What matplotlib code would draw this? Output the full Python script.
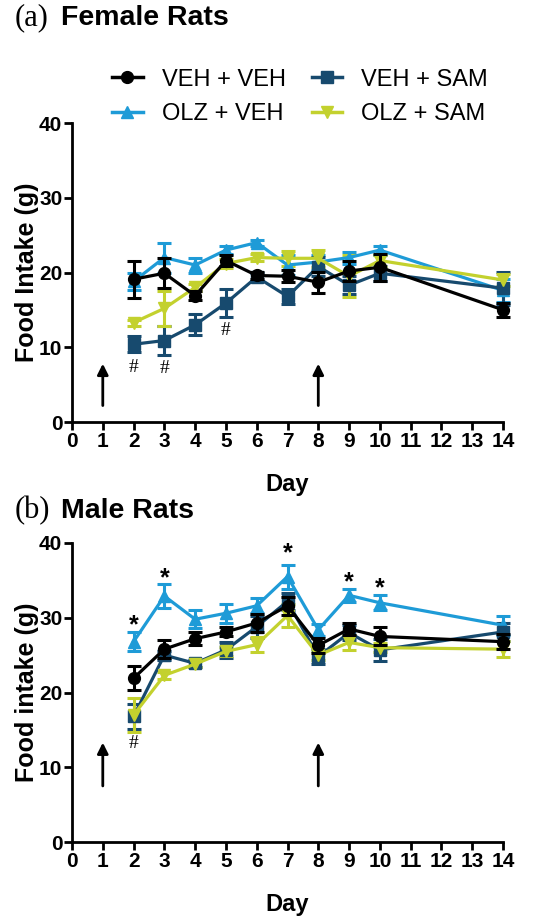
import matplotlib
matplotlib.use("Agg")
import matplotlib.pyplot as plt
from matplotlib.lines import Line2D

plt.rcParams['font.family'] = ['Liberation Sans', 'DejaVu Sans']

days = [2, 3, 4, 5, 6, 7, 8, 9, 10, 14]

# female rats (g)
f_vv = [19.1, 19.9, 16.9, 21.6, 19.6, 19.5, 18.7, 20.2, 20.7, 15.0]
f_vv_err = [2.5, 2.0, 0.6, 0.7, 0.5, 0.8, 1.4, 1.3, 1.8, 0.9]
f_vs = [10.4, 10.9, 13.0, 15.9, 19.4, 16.8, 20.8, 18.3, 19.9, 17.9]
f_vs_err = [1.1, 2.0, 1.4, 1.9, 0.5, 1.0, 1.3, 1.2, 1.0, 2.2]
f_ov = [18.8, 22.0, 21.0, 23.0, 24.0, 21.0, 21.4, 22.0, 23.0, 17.6]
f_ov_err = [1.2, 2.0, 1.0, 0.5, 0.4, 1.3, 1.0, 0.8, 0.6, 1.5]
f_os = [13.3, 15.2, 18.0, 21.2, 22.0, 21.9, 21.9, 19.5, 21.6, 19.0]
f_os_err = [0.4, 2.3, 0.5, 0.6, 0.5, 1.0, 1.1, 2.8, 0.8, 0.8]

# male rats (g)
m_vv = [21.9, 25.8, 27.2, 28.1, 29.3, 31.6, 26.3, 28.5, 27.5, 26.8]
m_vv_err = [1.6, 1.2, 0.9, 0.6, 1.2, 1.2, 1.0, 0.8, 1.2, 1.0]
m_vs = [16.8, 25.0, 23.9, 25.7, 28.8, 32.2, 24.8, 28.0, 25.7, 28.1]
m_vs_err = [1.7, 0.6, 0.5, 1.1, 1.5, 1.1, 1.0, 1.0, 1.5, 1.2]
m_ov = [26.8, 32.9, 29.8, 30.6, 31.6, 35.5, 28.4, 33.0, 32.0, 29.0]
m_ov_err = [1.3, 1.6, 1.2, 1.3, 1.0, 1.6, 0.8, 0.9, 1.0, 1.3]
m_os = [17.0, 22.3, 23.8, 25.5, 26.4, 30.3, 25.0, 26.7, 26.0, 25.8]
m_os_err = [2.3, 0.5, 0.4, 0.6, 1.0, 1.5, 0.6, 1.0, 0.6, 1.1]

labels = ['VEH + VEH', 'OLZ + VEH', 'VEH + SAM', 'OLZ + SAM']
colors = ['#000000', '#1e9bd7', '#174a6e', '#c3d12e']
markers = ['o', '^', 's', 'v']

# significance marks
f_hash_days = [2, 3, 5]
f_hash_y = [7.3, 7.1, 12.2]
m_star_days = [2, 3, 7, 9, 10]
m_star_y = [29.0, 35.3, 38.6, 34.7, 33.9]
m_hash_days = [2]
m_hash_y = [13.2]
arrow_days = [1, 8]

fig = plt.figure(figsize=(5.35, 9.21), dpi=100)
W, H = 535, 921


def axes_px(left, top, right, bottom):
    return fig.add_axes([left / W, 1 - bottom / H, (right - left) / W, (bottom - top) / H])


ax_a = axes_px(72, 123, 503, 422)
ax_b = axes_px(72, 543, 503, 842)


def draw(ax, series, errs, ylabel, arrow_lo, arrow_hi):
    for i in range(4):
        ax.errorbar(days, series[i], yerr=errs[i], color=colors[i], marker=markers[i],
                    markersize=8.5, linewidth=2.3, elinewidth=2.2, capsize=5, capthick=2.2,
                    clip_on=False, zorder=4 if i == 0 else 3)
    for d in arrow_days:
        ax.annotate('', xy=(d, arrow_hi), xytext=(d, arrow_lo),
                    arrowprops=dict(arrowstyle='-|>', color='black', lw=2,
                                    mutation_scale=16, shrinkA=0, shrinkB=0))
    ax.set_xlim(0, 14)
    ax.set_ylim(0, 40)
    ax.set_xticks(range(0, 15))
    ax.set_yticks([0, 10, 20, 30, 40])
    for s in ['top', 'right']:
        ax.spines[s].set_visible(False)
    for s in ['left', 'bottom']:
        ax.spines[s].set_linewidth(2)
    ax.tick_params(width=2, length=6, labelsize=15, pad=1)
    for t in ax.get_xticklabels() + ax.get_yticklabels():
        t.set_fontweight('bold')
    ax.set_xlabel('Day', fontsize=17, fontweight='bold', labelpad=16)
    ax.set_ylabel(ylabel, fontsize=18, fontweight='bold', labelpad=0)


draw(ax_a, [f_vv, f_ov, f_vs, f_os], [f_vv_err, f_ov_err, f_vs_err, f_os_err],
     'Food Intake (g)', 2.2, 7.8)
draw(ax_b, [m_vv, m_ov, m_vs, m_os], [m_vv_err, m_ov_err, m_vs_err, m_os_err],
     'Food intake (g)', 7.5, 13.3)

for d, y in zip(f_hash_days, f_hash_y):
    ax_a.text(d, y, '#', ha='center', va='center', fontsize=14, family='Liberation Serif')
for d, y in zip(m_star_days, m_star_y):
    ax_b.text(d, y, '*', ha='center', va='center', fontsize=18, fontweight='bold')
for d, y in zip(m_hash_days, m_hash_y):
    ax_b.text(d, y, '#', ha='center', va='center', fontsize=14, family='Liberation Serif')

handles = [Line2D([], [], color=c, marker=m, markersize=8.5, linewidth=2.5)
           for c, m in zip(colors, markers)]
fig.legend(handles, labels, ncol=2, loc='center', bbox_to_anchor=(300 / W, 1 - 97 / H),
           frameon=False, fontsize=17, handlelength=1.3, columnspacing=1.1,
           labelspacing=0.55, handletextpad=0.8)

fig.text(15 / W, 1 - 18 / H, '(a)', fontsize=22, family='Liberation Serif', va='center')
fig.text(61 / W, 1 - 18 / H, 'Female Rats', fontsize=20.5, fontweight='bold', va='center')
fig.text(15 / W, 1 - 511 / H, '(b)', fontsize=22, family='Liberation Serif', va='center')
fig.text(61 / W, 1 - 511 / H, 'Male Rats', fontsize=20.5, fontweight='bold', va='center')

fig.savefig('out.png', dpi=100)
